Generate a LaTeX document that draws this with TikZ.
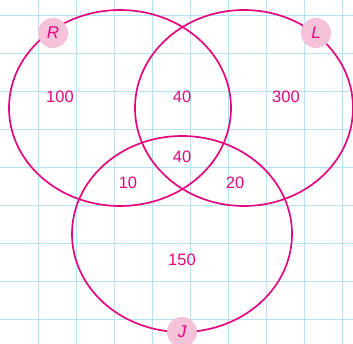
\documentclass[tikz,border=0pt]{standalone}
\usepackage{fontspec}
\setmainfont{Liberation Sans}
\definecolor{mag}{HTML}{E2087F}
\definecolor{lblfill}{HTML}{F5C2DA}
\definecolor{gridblue}{HTML}{B5E2F6}
\begin{document}
\begin{tikzpicture}[x=1pt,y=-1pt,
  setline/.style={draw=mag,line width=1.7pt},
  numlbl/.style={text=mag,font=\fontsize{16.5}{18}\selectfont,inner sep=0pt},
  setlbl/.style={circle,fill=lblfill,minimum size=30pt,inner sep=0pt,text=mag,font=\fontsize{17}{19}\selectfont\itshape}]
\useasboundingbox (0,0) rectangle (353,344);
\fill[white] (0,0) rectangle (353,344);
\foreach \i in {0,...,9} {\draw[gridblue,line width=1pt] (-0.1+38.1*\i,0) -- (-0.1+38.1*\i,344);}
\foreach \i in {0,...,8} {\draw[gridblue,line width=1pt] (0,16+37.9*\i) -- (353,16+37.9*\i);}
\draw[setline] (120,108) ellipse [x radius=111, y radius=98];
\draw[setline] (244,108) ellipse [x radius=109, y radius=98];
\draw[setline] (182,234) ellipse [x radius=110, y radius=98];
\node[setlbl] (R) at (53,33) {R};
\node[setlbl] (L) at (316,33) {L};
\node[setlbl] (J) at (182,332) {J};
\node[numlbl] (n100) at (60,97) {100};
\node[numlbl] (nRL) at (182,97) {40};
\node[numlbl] (n300) at (286,97) {300};
\node[numlbl] (nRLJ) at (182,157) {40};
\node[numlbl] (nRJ) at (128,183) {10};
\node[numlbl] (nLJ) at (235,183) {20};
\node[numlbl] (n150) at (182,260) {150};
\end{tikzpicture}
\end{document}
